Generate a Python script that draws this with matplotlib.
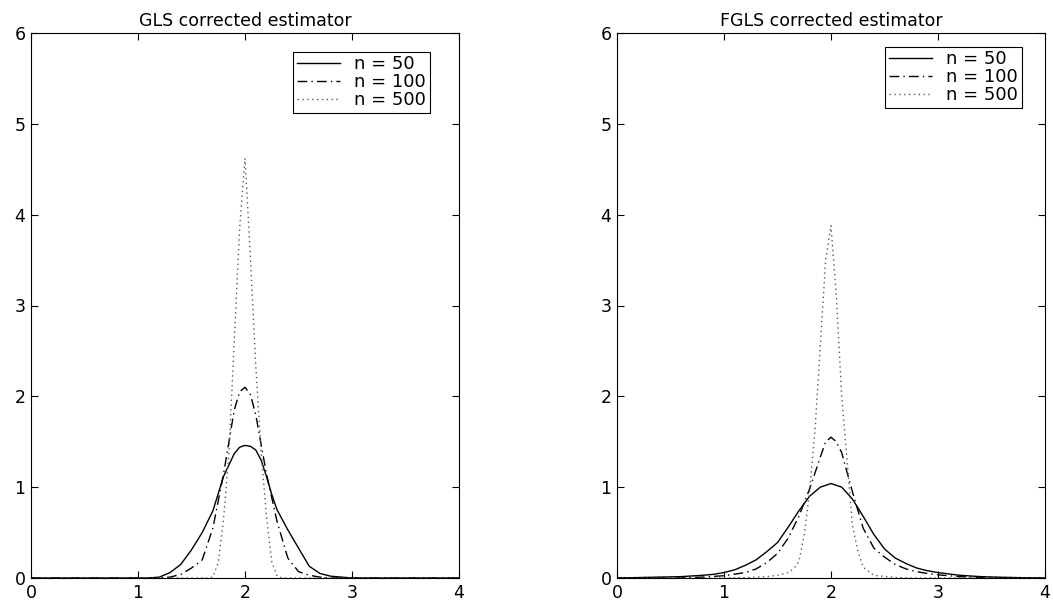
"""
GLS / FGLS corrected estimator densities for n = 50, 100, 500.
Values read off the reference figure.
"""

import matplotlib
matplotlib.use("Agg")
import matplotlib.pyplot as plt

# --- GLS corrected estimator (left panel) ---
gls_x50 = [0.0, 1.1, 1.2, 1.3, 1.4, 1.5, 1.6, 1.7, 1.75, 1.8, 1.9, 1.95, 2.0, 2.05,
           2.1, 2.15, 2.2, 2.25, 2.3, 2.4, 2.5, 2.6, 2.7, 2.8, 2.9, 3.0, 4.0]
gls_y50 = [0.0, 0.0, 0.01, 0.06, 0.15, 0.31, 0.50, 0.74, 0.93, 1.12, 1.37, 1.44, 1.46, 1.45,
           1.41, 1.30, 1.12, 0.92, 0.75, 0.53, 0.33, 0.13, 0.05, 0.02, 0.01, 0.0, 0.0]

gls_x100 = [0.0, 1.2, 1.3, 1.4, 1.5, 1.6, 1.7, 1.8, 1.9, 1.95, 2.0, 2.05, 2.1, 2.2,
            2.3, 2.4, 2.5, 2.6, 2.7, 2.8, 4.0]
gls_y100 = [0.0, 0.0, 0.01, 0.04, 0.11, 0.20, 0.55, 1.15, 1.85, 2.05, 2.10, 2.02, 1.80, 1.15,
            0.62, 0.22, 0.07, 0.03, 0.01, 0.0, 0.0]

gls_x500 = [0.0, 1.65, 1.70, 1.75, 1.80, 1.85, 1.90, 1.95, 2.00, 2.05, 2.10, 2.15,
            2.20, 2.25, 2.30, 2.35, 4.0]
gls_y500 = [0.0, 0.0, 0.01, 0.17, 0.65, 1.38, 2.62, 3.85, 4.62, 3.55, 2.35, 1.40,
            0.68, 0.18, 0.02, 0.0, 0.0]

# --- FGLS corrected estimator (right panel) ---
fgls_x50 = [0.0, 0.2, 0.4, 0.6, 0.8, 0.9, 1.0, 1.1, 1.2, 1.3, 1.4, 1.5, 1.6, 1.7, 1.8,
            1.9, 2.0, 2.1, 2.2, 2.3, 2.4, 2.5, 2.6, 2.7, 2.8, 2.9, 3.0, 3.2, 3.4,
            3.6, 3.8, 4.0]
fgls_y50 = [0.0, 0.005, 0.01, 0.015, 0.03, 0.04, 0.06, 0.09, 0.14, 0.20, 0.29, 0.39, 0.56,
            0.74, 0.90, 1.00, 1.04, 1.00, 0.87, 0.68, 0.48, 0.32, 0.22, 0.16, 0.11,
            0.08, 0.06, 0.03, 0.015, 0.008, 0.003, 0.0]

fgls_x100 = [0.0, 0.6, 0.8, 1.0, 1.2, 1.3, 1.4, 1.5, 1.6, 1.7, 1.8, 1.9, 1.95, 2.0, 2.05,
             2.1, 2.2, 2.3, 2.4, 2.5, 2.6, 2.7, 2.8, 2.9, 3.0, 3.2, 3.4, 3.6, 4.0]
fgls_y100 = [0.0, 0.0, 0.01, 0.025, 0.06, 0.10, 0.17, 0.27, 0.44, 0.68, 0.98, 1.33, 1.50,
             1.55, 1.50, 1.38, 0.95, 0.55, 0.33, 0.23, 0.15, 0.10, 0.07, 0.05, 0.035,
             0.015, 0.005, 0.0, 0.0]

fgls_x500 = [0.0, 1.0, 1.2, 1.4, 1.5, 1.6, 1.65, 1.70, 1.75, 1.80, 1.85, 1.90, 1.95,
             2.00, 2.05, 2.10, 2.15, 2.20, 2.25, 2.30, 2.40, 2.60, 2.80, 4.0]
fgls_y500 = [0.0, 0.0, 0.005, 0.015, 0.03, 0.06, 0.10, 0.18, 0.48, 0.95, 1.62, 2.55, 3.50,
             3.88, 3.10, 2.00, 1.30, 0.58, 0.30, 0.12, 0.03, 0.005, 0.0, 0.0]

labels = ["n = 50", "n = 100", "n = 500"]

plt.rcParams["font.family"] = ["DejaVu Sans"]
plt.rcParams["font.size"] = 12

fig = plt.figure(figsize=(10.53, 6.05), dpi=100)
ax_left = fig.add_axes([31 / 1053, 27 / 605, 428 / 1053, 545 / 605])
ax_right = fig.add_axes([617 / 1053, 27 / 605, 428 / 1053, 545 / 605])

panels = [
    (ax_left, "GLS corrected estimator",
     [(gls_x50, gls_y50), (gls_x100, gls_y100), (gls_x500, gls_y500)], (0.932, 0.966)),
    (ax_right, "FGLS corrected estimator",
     [(fgls_x50, fgls_y50), (fgls_x100, fgls_y100), (fgls_x500, fgls_y500)], (0.946, 0.975)),
]

for ax, title, series, anchor in panels:
    (x50, y50), (x100, y100), (x500, y500) = series
    ax.plot(x50, y50, color="black", linewidth=1.0, label=labels[0])
    ax.plot(x100, y100, color="black", linewidth=1.0, dashes=(7, 3, 1, 3), label=labels[1])
    ax.plot(x500, y500, color="0.35", linewidth=1.0, dashes=(1, 2.5), label=labels[2])

    ax.set_xlim(0, 4)
    ax.set_ylim(0, 6)
    ax.set_xticks(range(5))
    ax.set_yticks(range(7))
    ax.tick_params(direction="in", top=True, right=True, length=5, width=0.8,
                   pad=4, labelsize=12.5)
    for spine in ax.spines.values():
        spine.set_linewidth(0.8)
    ax.set_title(title, fontsize=12.5, pad=5)

    leg = ax.legend(loc="upper right", bbox_to_anchor=anchor, frameon=True,
                    fancybox=False, edgecolor="black", framealpha=1, fontsize=13,
                    handlelength=2.4, handletextpad=0.8, borderpad=0.2,
                    labelspacing=0.0, borderaxespad=0)
    leg.get_frame().set_linewidth(0.8)

plt.savefig("out.png", dpi=100)
plt.close()
